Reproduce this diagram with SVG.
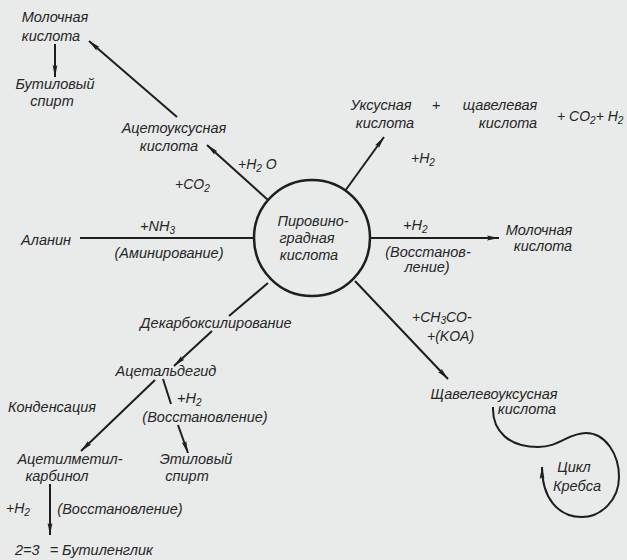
<svg xmlns="http://www.w3.org/2000/svg" width="627" height="560" viewBox="0 0 627 560">
  <defs>
    <marker id="arrow" viewBox="0 0 12 6" refX="12" refY="3" markerWidth="12" markerHeight="6" markerUnits="userSpaceOnUse" orient="auto">
      <path d="M0,0.6 L12,3 L0,5.4 L2,3 Z" fill="#1e1e1e"/>
    </marker>
    <style>
      text { font-family: "Liberation Sans", "DejaVu Sans", sans-serif; font-style: italic; font-size: 14.5px; fill: #262626; text-anchor: middle; }
      .l { text-anchor: start; }
      .sm { font-size: 14px; }
      .sub { font-size: 10px; }
      .edge { stroke: #1e1e1e; stroke-width: 2; fill: none; }
      .arr { marker-end: url(#arrow); }
    </style>
  </defs>

  <rect width="627" height="560" fill="#e9eaea"/>

  <!-- connectors -->
  <g id="connectors">
    <line class="edge" x1="80" y1="238" x2="254" y2="238"/>
    <line class="edge arr" x1="370" y1="238" x2="499" y2="238"/>
    <line class="edge arr" x1="268" y1="200" x2="207" y2="145"/>
    <line class="edge arr" x1="177" y1="117" x2="89" y2="41"/>
    <line class="edge arr" x1="55" y1="44" x2="55" y2="77"/>
    <line class="edge arr" x1="345" y1="191" x2="384" y2="137"/>
    <line class="edge arr" x1="355" y1="281" x2="448" y2="379"/>
    <line class="edge" x1="268" y1="283" x2="229" y2="316"/>
    <line class="edge arr" x1="212" y1="331" x2="174" y2="366"/>
    <line class="edge arr" x1="155" y1="380" x2="81" y2="451"/>
    <line class="edge" x1="163" y1="379" x2="171" y2="404"/>
    <line class="edge arr" x1="178" y1="425" x2="188" y2="453"/>
    <line class="edge arr" x1="50" y1="484" x2="50" y2="535"/>
    <path class="edge arr" d="M493,407 C492,432 510,447 538,447 C560,447 568,433 586,433 C606,433 619,455 619,477 C619,500 601,517 582,517 C558,517 542,498 542,467"/>
  </g>

  <!-- central node -->
  <g id="pyruvic-acid">
    <circle cx="312" cy="238" r="58" fill="none" stroke="#1e1e1e" stroke-width="2.5"/>
    <text x="313" y="226">Пировино-</text>
    <text x="307" y="243">градная</text>
    <text x="309" y="260">кислота</text>
  </g>

  <g id="lactic-acid-top">
    <text x="55" y="22">Молочная</text>
    <text x="51" y="41">кислота</text>
  </g>

  <g id="butanol">
    <text x="55" y="89">Бутиловый</text>
    <text x="52" y="106">спирт</text>
  </g>

  <g id="acetoacetic-acid">
    <text x="174" y="133">Ацетоуксусная</text>
    <text x="169" y="151">кислота</text>
    <text class="l sm" x="175" y="189">+CO<tspan class="sub" dy="3">2</tspan></text>
    <text class="l sm" x="238" y="169">+H<tspan class="sub" dy="3">2</tspan><tspan dy="-3"> O</tspan></text>
  </g>

  <g id="acetic-oxalic">
    <text x="381" y="110">Уксусная</text>
    <text x="385" y="128">кислота</text>
    <text x="436" y="110">+</text>
    <text x="500" y="110">щавелевая</text>
    <text x="508" y="128">кислота</text>
    <text class="l sm" x="557" y="121">+ CO<tspan class="sub" dy="3">2</tspan><tspan dy="-3">+ H</tspan><tspan class="sub" dy="3">2</tspan></text>
    <text class="l sm" x="411" y="163">+H<tspan class="sub" dy="3">2</tspan></text>
  </g>

  <g id="alanine">
    <text x="46" y="245">Аланин</text>
    <text class="l" x="140" y="231">+NH<tspan class="sub" dy="3">3</tspan></text>
    <text x="169" y="258">(Аминирование)</text>
  </g>

  <g id="lactic-acid-right">
    <text class="l" x="403" y="230">+H<tspan class="sub" dy="3">2</tspan></text>
    <text x="428" y="257">(Восстанов-</text>
    <text x="427" y="272">ление)</text>
    <text x="539" y="235">Молочная</text>
    <text x="543" y="251">кислота</text>
  </g>

  <g id="oxaloacetic-acid">
    <text class="l sm" x="412" y="322">+CH<tspan class="sub" dy="2">3</tspan><tspan dy="-2">CO-</tspan></text>
    <text class="l sm" x="427" y="341">+(KOA)</text>
    <text x="494" y="399">Щавелевоуксусная</text>
    <text x="527" y="414">кислота</text>
  </g>

  <g id="krebs-cycle">
    <text x="574" y="472">Цикл</text>
    <text x="577" y="491">Кребса</text>
  </g>

  <g id="acetaldehyde">
    <text x="216" y="328">Декарбоксилирование</text>
    <text x="166" y="376">Ацетальдегид</text>
    <text class="l" x="177" y="403">+H<tspan class="sub" dy="3">2</tspan></text>
    <text x="205" y="422">(Восстановление)</text>
  </g>

  <g id="acetylmethylcarbinol">
    <text x="52" y="412">Конденсация</text>
    <text x="70" y="464">Ацетилметил-</text>
    <text x="57" y="481">карбинол</text>
  </g>

  <g id="ethanol">
    <text x="196" y="464">Этиловый</text>
    <text x="187" y="481">спирт</text>
  </g>

  <g id="butylene-glycol">
    <text class="l sm" x="6" y="513">+H<tspan class="sub" dy="3">2</tspan></text>
    <text x="120" y="514">(Восстановление)</text>
    <text class="l" x="15" y="555">2=3 <tspan dx="6">= Бутиленглик</tspan></text>
  </g>
</svg>
